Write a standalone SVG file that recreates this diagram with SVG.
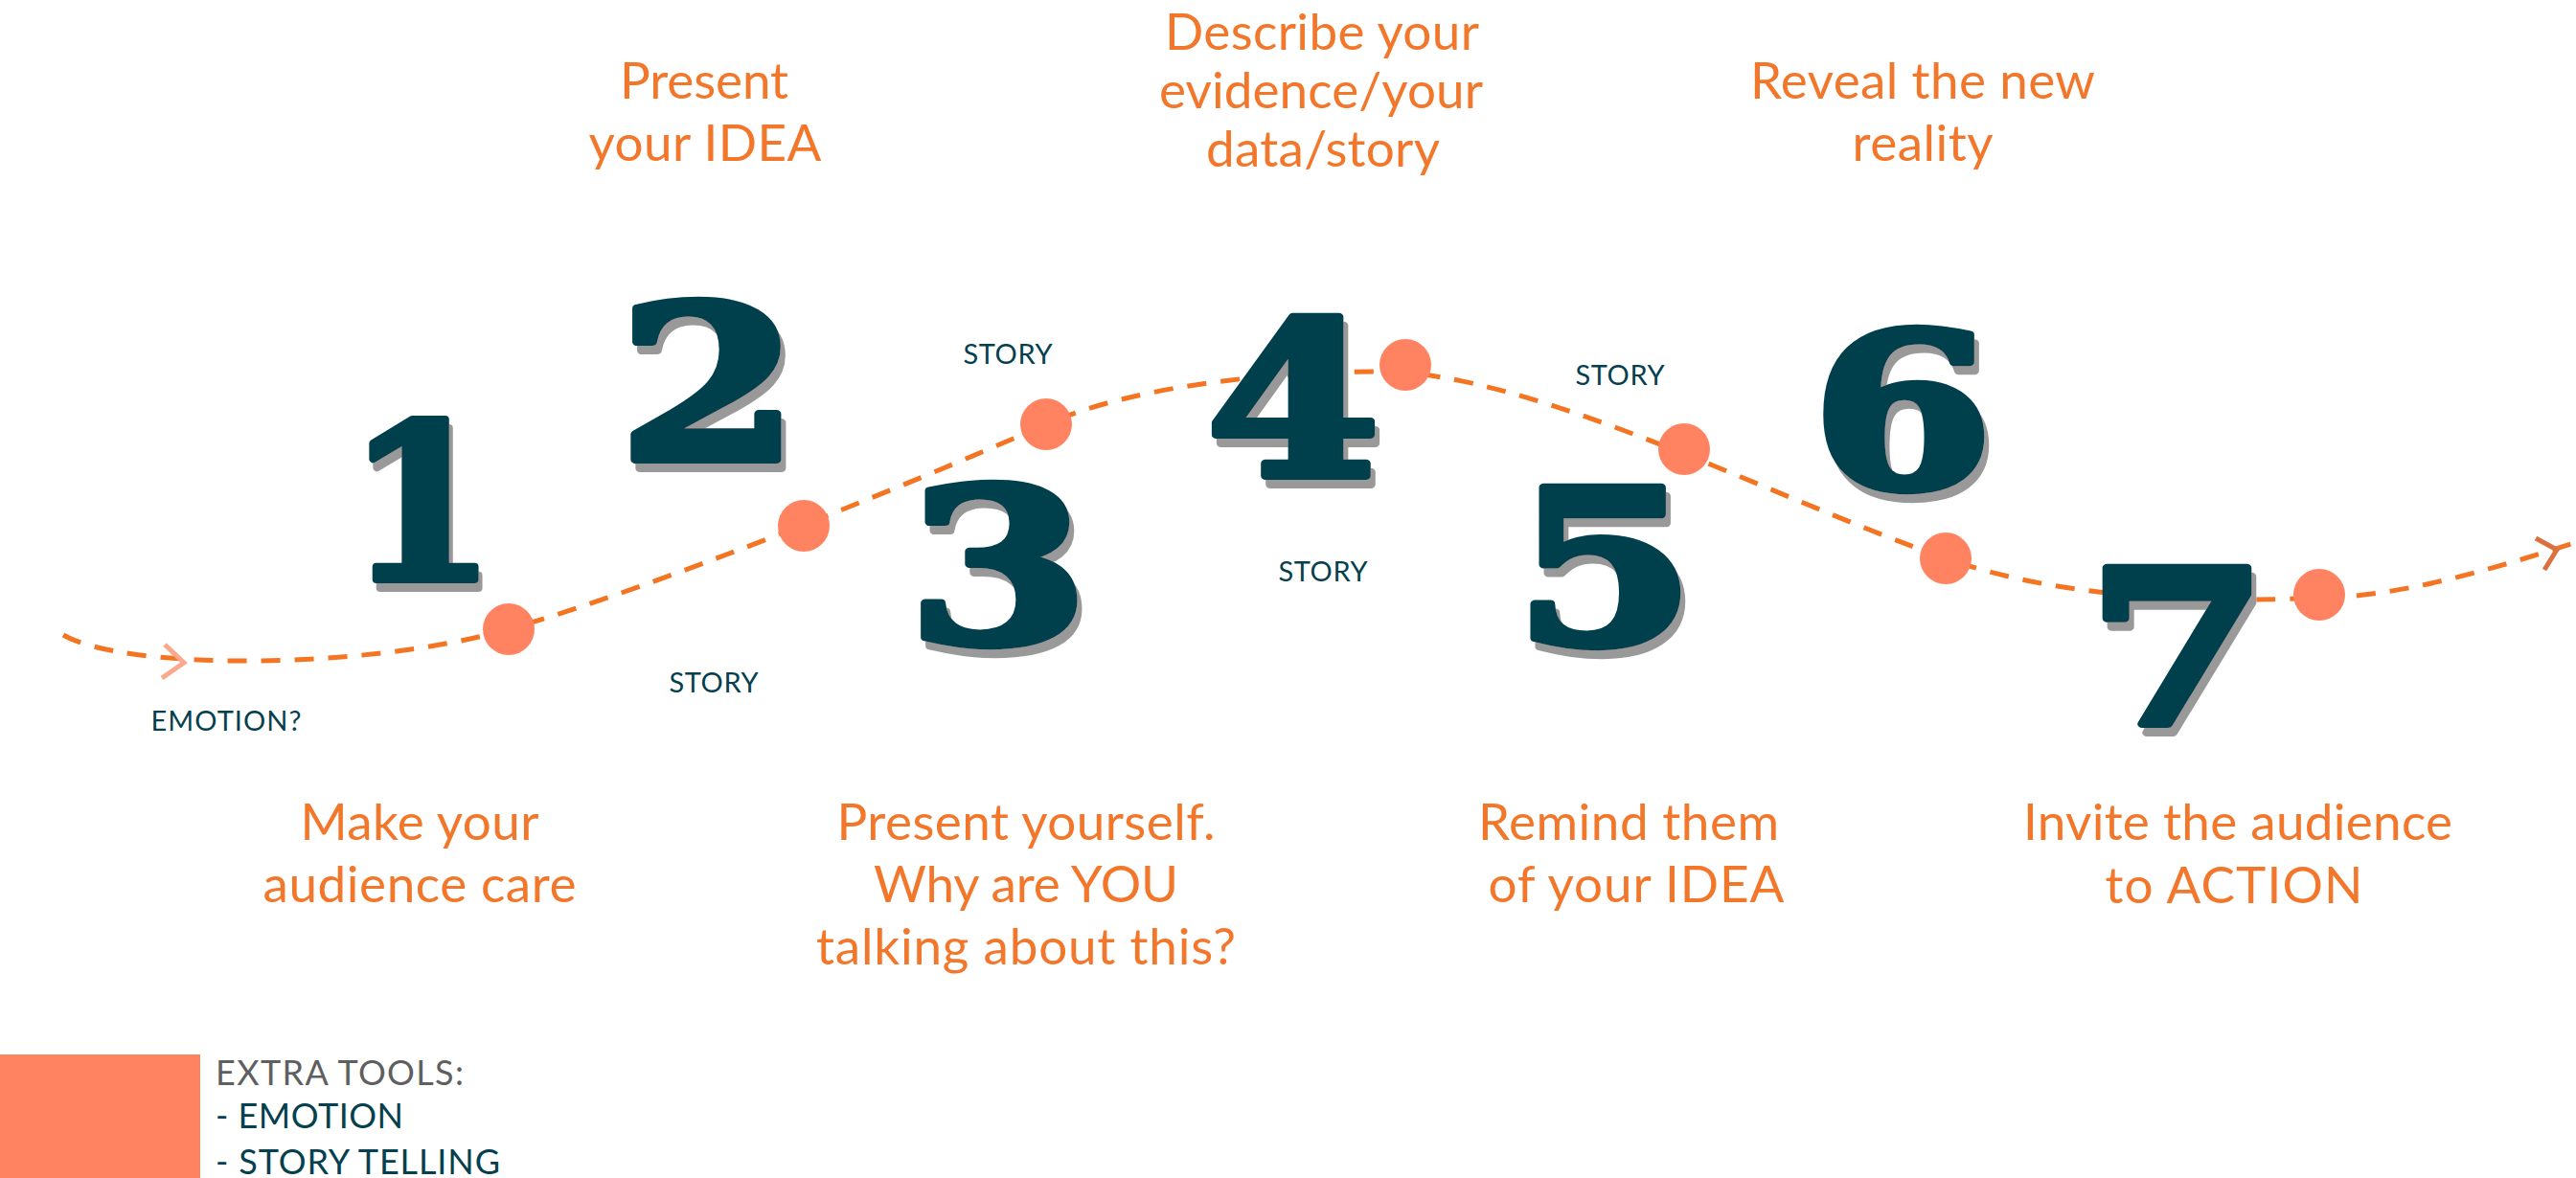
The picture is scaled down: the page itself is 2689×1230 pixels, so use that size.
<svg xmlns="http://www.w3.org/2000/svg" width="2689" height="1230" viewBox="0 0 2689 1230">
<style>
.num{font-family:"DejaVu Serif",serif;font-weight:bold;font-size:224px;text-anchor:middle;stroke-width:8;stroke-linejoin:round;fill:#063F4E;stroke:#063F4E;filter:url(#shadow)}
.cap{font-family:Lato,"Liberation Sans",sans-serif;font-size:53px;fill:#F3772B;text-anchor:middle}
.story{font-family:Lato,"Liberation Sans",sans-serif;font-size:29px;fill:#063F4E;text-anchor:middle}
.dot{fill:#FF8360}
.route{fill:none;stroke:#F47421;stroke-width:5;stroke-dasharray:20 15}
.chev{fill:none;stroke-width:5;stroke-linecap:butt;stroke-linejoin:miter}
.legend{font-family:Lato,"Liberation Sans",sans-serif;font-size:36px}
</style>
<defs>
  <filter id="shadow" x="-15%" y="-15%" width="140%" height="140%">
    <feOffset in="SourceAlpha" dx="4" dy="9" result="off"/>
    <feFlood flood-color="#999999"/>
    <feComposite in2="off" operator="in" result="sh"/>
    <feMerge><feMergeNode in="sh"/><feMergeNode in="SourceGraphic"/></feMerge>
  </filter>
</defs>
<rect width="2689" height="1230" fill="#FFFFFF"/>

<g id="connectors">
  <path class="route" d="M66,663 C130,700 380,700 531,657 C681,614 940,510 1092,443 C1190,400 1340,388 1440,388 C1600,388 1850,520 2031,583 C2150,625 2300,630 2421,624 C2500,624 2600,595 2687,567"/>
  <polyline class="chev" stroke="#FBA98C" points="172,673 192,692 169,708"/>
  <polyline class="chev" stroke="#D9723F" points="2647,562 2669,574 2656,595"/>
</g>

<g id="dots">
  <circle class="dot" cx="531" cy="657" r="27"/>
  <circle class="dot" cx="839" cy="549" r="27"/>
  <circle class="dot" cx="1092" cy="443" r="27"/>
  <circle class="dot" cx="1467" cy="381" r="27"/>
  <circle class="dot" cx="1758" cy="469" r="27"/>
  <circle class="dot" cx="2031" cy="583" r="27"/>
  <circle class="dot" cx="2421" cy="621" r="27"/>
</g>

<g id="step1">
  <text class="num" transform="translate(440,605)">1</text>
  <text class="cap" x="438" y="877" textLength="249">Make your</text>
  <text class="cap" x="438" y="942" textLength="327">audience care</text>
</g>
<g id="step2">
  <text class="num" transform="translate(740,480) scale(1.22,1)">2</text>
  <text class="cap" x="735" y="103" textLength="176">Present</text>
  <text class="cap" x="736" y="168" textLength="243">your IDEA</text>
</g>
<g id="step3">
  <text class="num" transform="translate(1042,671) scale(1.22,1)">3</text>
  <text class="cap" x="1071" y="877" textLength="395">Present yourself.</text>
  <text class="cap" x="1071" y="942" textLength="318">Why are YOU</text>
  <text class="cap" x="1071" y="1007" textLength="438">talking about this?</text>
</g>
<g id="step4">
  <text class="num" transform="translate(1350,497) scale(1.17,1)">4</text>
  <text class="cap" x="1380" y="52" textLength="328">Describe your</text>
  <text class="cap" x="1379" y="113" textLength="338">evidence/your</text>
  <text class="cap" x="1381" y="174" textLength="244">data/story</text>
</g>
<g id="step5">
  <text class="num" transform="translate(1675,672) scale(1.22,1)">5</text>
  <text class="cap" x="1700" y="877" textLength="314">Remind them</text>
  <text class="cap" x="1708" y="942" textLength="309">of your IDEA</text>
</g>
<g id="step6">
  <text class="num" transform="translate(1986,509) scale(1.22,1)">6</text>
  <text class="cap" x="2007" y="103" textLength="360">Reveal the new</text>
  <text class="cap" x="2007" y="168" textLength="147">reality</text>
</g>
<g id="step7">
  <text class="num" transform="translate(2273,756) scale(1.22,1)">7</text>
  <text class="cap" x="2336" y="877" textLength="448">Invite the audience</text>
  <text class="cap" x="2332" y="943" textLength="269">to ACTION</text>
</g>

<g id="label-emotion"><text class="story" x="236" y="763" textLength="157">EMOTION?</text></g>
<g id="story-1"><text class="story" x="745" y="723" textLength="93">STORY</text></g>
<g id="story-2"><text class="story" x="1052" y="380" textLength="93">STORY</text></g>
<g id="story-3"><text class="story" x="1381" y="607" textLength="93">STORY</text></g>
<g id="story-4"><text class="story" x="1691" y="402" textLength="93">STORY</text></g>

<g id="legend">
  <rect x="0" y="1101" width="209" height="129" fill="#FF8360"/>
  <text class="legend" x="225" y="1133" fill="#5F5F5F" textLength="259">EXTRA TOOLS:</text>
  <text class="legend" x="225" y="1178" fill="#063F4E" textLength="196">- EMOTION</text>
  <text class="legend" x="225" y="1226" fill="#063F4E" textLength="297">- STORY TELLING</text>
</g>
</svg>
